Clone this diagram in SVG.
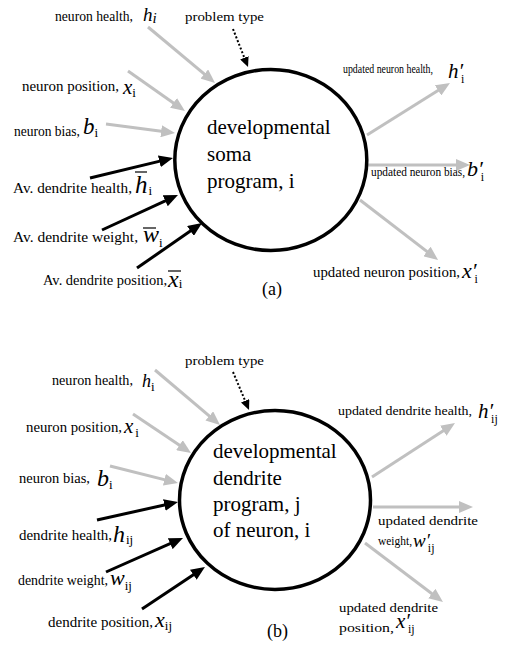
<svg xmlns="http://www.w3.org/2000/svg" width="512" height="648" viewBox="0 0 512 648">
<style>
text { font-family: "Liberation Serif", "Times New Roman", serif; fill: #000; }
.lbl { font-size: 14px; }
.sm { font-size: 13px; }
.v { font-style: italic; }
.s { font-style: normal; font-size: 13px; }
.si { font-style: normal; font-size: 12px; }
.ctr { font-size: 21px; }
.ring { fill: #fff; stroke: #000; stroke-width: 3.5; }
.gray { stroke: #c0c0c0; stroke-width: 3; fill: none; marker-end: url(#ag); }
.blk { stroke: #000; stroke-width: 3; fill: none; marker-end: url(#ab); }
.dot { stroke: #000; stroke-width: 2; stroke-dasharray: 2 2; fill: none; marker-end: url(#ad); }
.bar { stroke: #000; stroke-width: 1.2; }
</style>
<defs>
<marker id="ag" markerUnits="userSpaceOnUse" viewBox="0 0 14 12" markerWidth="14" markerHeight="12" refX="6" refY="6" orient="auto"><path d="M0,0 L14,6 L0,12 z" fill="#c0c0c0"/></marker>
<marker id="ab" markerUnits="userSpaceOnUse" viewBox="0 0 14 12" markerWidth="14" markerHeight="12" refX="6" refY="6" orient="auto"><path d="M0,0 L14,6 L0,12 z" fill="#000"/></marker>
<marker id="ad" markerUnits="userSpaceOnUse" viewBox="0 0 10 9" markerWidth="10" markerHeight="9" refX="5" refY="4.5" orient="auto"><path d="M0,0 L10,4.5 L0,9 z" fill="#000"/></marker>
</defs>

<g id="connectors">
<line class="gray" x1="148" y1="27" x2="208.9" y2="77.9"/>
<line class="gray" x1="128" y1="71" x2="178.4" y2="106.4"/>
<line class="gray" x1="106" y1="124" x2="167.1" y2="132"/>
<line class="blk" x1="90" y1="178" x2="165.2" y2="159.9"/>
<line class="blk" x1="102" y1="230" x2="170.7" y2="198.3"/>
<line class="blk" x1="137" y1="268" x2="195.4" y2="227.6"/>
<line class="gray" x1="367" y1="135" x2="443.2" y2="87.2"/>
<line class="gray" x1="368" y1="165" x2="462" y2="165"/>
<line class="gray" x1="360" y1="200" x2="431.7" y2="255.1"/>
<line class="dot" x1="233" y1="29" x2="246.2" y2="62.4"/>
<line class="gray" x1="155" y1="370" x2="213.9" y2="419.8"/>
<line class="gray" x1="133" y1="414" x2="184.4" y2="448.5"/>
<line class="gray" x1="110" y1="466" x2="170.2" y2="481.1"/>
<line class="blk" x1="97" y1="520" x2="170.2" y2="503.7"/>
<line class="blk" x1="106" y1="572" x2="175.7" y2="541.2"/>
<line class="blk" x1="142" y1="609" x2="198.3" y2="571.4"/>
<line class="gray" x1="372" y1="477" x2="448.3" y2="427.4"/>
<line class="gray" x1="373" y1="507" x2="465" y2="507"/>
<line class="gray" x1="365" y1="543" x2="436.6" y2="597.2"/>
<line class="dot" x1="233" y1="372" x2="247.1" y2="405.4"/>
</g>

<g id="soma">
<ellipse class="ring" cx="270.8" cy="160" rx="96" ry="90.5"/>
<text class="ctr" x="207" y="134">developmental</text>
<text class="ctr" x="207" y="161">soma</text>
<text class="ctr" x="207" y="188">program, i</text>
</g>

<g id="a-neuron-health">
<text class="lbl" x="55" y="21" textLength="78" lengthAdjust="spacingAndGlyphs">neuron health,</text>
<text class="v" x="143" y="21" font-size="19">h<tspan font-size="15" dy="2">i</tspan></text>
</g>
<g id="a-problem-type"><text class="sm" x="185" y="21" textLength="79" lengthAdjust="spacingAndGlyphs">problem type</text></g>
<g id="a-neuron-position">
<text class="lbl" x="22" y="91" textLength="97" lengthAdjust="spacingAndGlyphs">neuron position,</text>
<text class="v" x="123" y="94" font-size="21">x<tspan class="s" dy="3">i</tspan></text>
</g>
<g id="a-neuron-bias">
<text class="lbl" x="14" y="136" textLength="66" lengthAdjust="spacingAndGlyphs">neuron bias,</text>
<text class="v" x="83" y="134" font-size="23">b<tspan class="s" dy="3">i</tspan></text>
</g>
<g id="a-av-health">
<text class="lbl" x="13" y="193" textLength="119" lengthAdjust="spacingAndGlyphs">Av. dendrite health,</text>
<text class="v" x="135" y="193" font-size="25">h<tspan class="s" dx="1" dy="2">i</tspan></text>
<line class="bar" x1="135" y1="172" x2="147" y2="172"/>
</g>
<g id="a-av-weight">
<text class="lbl" x="13" y="242" textLength="125" lengthAdjust="spacingAndGlyphs">Av. dendrite weight,</text>
<text class="v" x="143" y="242" font-size="24">w<tspan class="s" dy="5">i</tspan></text>
<line class="bar" x1="143" y1="228" x2="156" y2="228"/>
</g>
<g id="a-av-position">
<text class="lbl" x="43" y="285" textLength="124" lengthAdjust="spacingAndGlyphs">Av. dendrite position,</text>
<text class="v" x="168" y="287" font-size="24">x<tspan class="s" dy="1">i</tspan></text>
<line class="bar" x1="168" y1="271" x2="181" y2="271"/>
</g>
<g id="a-out-health">
<text class="sm" x="343" y="73" textLength="90" lengthAdjust="spacingAndGlyphs">updated neuron health,</text>
<text class="v" x="448" y="78" font-size="21">h′<tspan class="si" dx="-2" dy="5">i</tspan></text>
</g>
<g id="a-out-bias">
<text class="sm" x="371" y="176" textLength="94" lengthAdjust="spacingAndGlyphs">updated neuron bias,</text>
<text class="v" x="467" y="176" font-size="22">b′<tspan class="si" dx="-2" dy="5">i</tspan></text>
</g>
<g id="a-out-position">
<text class="lbl" x="313" y="277" textLength="147" lengthAdjust="spacingAndGlyphs">updated neuron position,</text>
<text class="v" x="462" y="278" font-size="22">x′<tspan class="si" dx="-2" dy="5">i</tspan></text>
</g>
<g id="a-caption"><text x="262" y="295" font-size="18">(a)</text></g>

<g id="dendrite">
<ellipse class="ring" cx="275" cy="500" rx="95.5" ry="89.5"/>
<text class="ctr" x="213" y="458">developmental</text>
<text class="ctr" x="213" y="485">dendrite</text>
<text class="ctr" x="213" y="511">program, j</text>
<text class="ctr" x="213" y="537">of neuron, i</text>
</g>

<g id="b-problem-type"><text class="sm" x="185" y="365" textLength="79" lengthAdjust="spacingAndGlyphs">problem type</text></g>
<g id="b-neuron-health">
<text class="lbl" x="52" y="385" textLength="81" lengthAdjust="spacingAndGlyphs">neuron health,</text>
<text class="v" x="142" y="387" font-size="18">h<tspan class="s" dy="4">i</tspan></text>
</g>
<g id="b-neuron-position">
<text class="lbl" x="26" y="432" textLength="96" lengthAdjust="spacingAndGlyphs">neuron position,</text>
<text class="v" x="124" y="433" font-size="21">x<tspan class="s" dx="2" dy="4">i</tspan></text>
</g>
<g id="b-neuron-bias">
<text class="lbl" x="19" y="483" textLength="71" lengthAdjust="spacingAndGlyphs">neuron bias,</text>
<text class="v" x="97" y="486" font-size="24">b<tspan class="s" dy="3">i</tspan></text>
</g>
<g id="b-dendrite-health">
<text class="lbl" x="19" y="540" textLength="93" lengthAdjust="spacingAndGlyphs">dendrite health,</text>
<text class="v" x="113" y="542" font-size="24">h<tspan class="s" dx="1" dy="2">ij</tspan></text>
</g>
<g id="b-dendrite-weight">
<text class="lbl" x="18" y="585" textLength="90" lengthAdjust="spacingAndGlyphs">dendrite weight,</text>
<text class="v" x="110" y="585" font-size="22">w<tspan class="s" dy="5">ij</tspan></text>
</g>
<g id="b-dendrite-position">
<text class="lbl" x="48" y="627" textLength="105" lengthAdjust="spacingAndGlyphs">dendrite position,</text>
<text class="v" x="155" y="627" font-size="22">x<tspan class="s" dy="3">ij</tspan></text>
</g>
<g id="b-out-health">
<text class="sm" x="338" y="415" textLength="134" lengthAdjust="spacingAndGlyphs">updated dendrite health,</text>
<text class="v" x="478" y="418" font-size="21">h′<tspan class="si" dx="-2" dy="5">ij</tspan></text>
</g>
<g id="b-out-weight">
<text class="sm" x="378" y="525" textLength="100" lengthAdjust="spacingAndGlyphs">updated dendrite</text>
<text class="sm" x="378" y="545" textLength="34" lengthAdjust="spacingAndGlyphs">weight,</text>
<text class="v" x="413" y="547" font-size="19">w′<tspan class="si" dx="-2" dy="5">ij</tspan></text>
</g>
<g id="b-out-position">
<text class="sm" x="339" y="612" textLength="99" lengthAdjust="spacingAndGlyphs">updated dendrite</text>
<text class="sm" x="339" y="632" textLength="55" lengthAdjust="spacingAndGlyphs">position,</text>
<text class="v" x="396" y="628" font-size="21">x′<tspan class="si" dx="-2" dy="5">ij</tspan></text>
</g>
<g id="b-caption"><text x="267" y="637" font-size="18">(b)</text></g>
</svg>
